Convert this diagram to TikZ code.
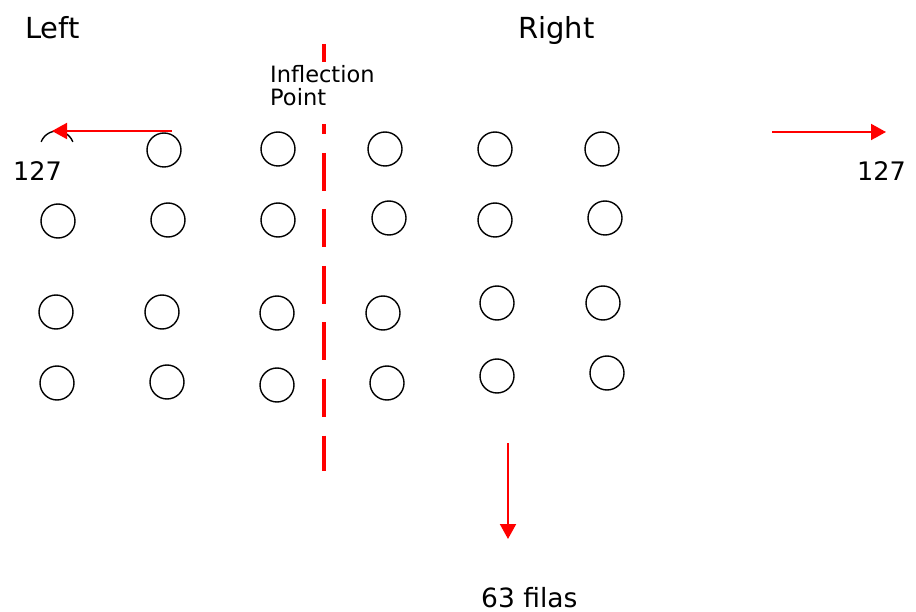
\documentclass[tikz,border=0pt]{standalone}
\usepackage{fontspec}
\setmainfont{DejaVu Sans}
\usetikzlibrary{arrows.meta}
\begin{document}
\begin{tikzpicture}[x=1pt,y=-1pt,
  hole/.style={circle,draw=black,line width=1.4pt,minimum size=34pt,inner sep=0pt},
  lbl/.style={inner sep=0pt,anchor=base west,text=black},
  side/.style={lbl,font=\fontsize{29}{34}\selectfont},
  count/.style={lbl,font=\fontsize{25.5}{30}\selectfont},
  note/.style={lbl,font=\fontsize{22.5}{23}\selectfont,align=left},
  redarrow/.style={draw=red,line width=2pt,-{Triangle[length=15pt,width=16pt]}},
  axis/.style={draw=red,line width=3.5pt,dash pattern=on 38pt off 18.5pt,dash phase=4pt}]
\useasboundingbox (0,0) rectangle (916,612);

% grid of holes, rows top to bottom
\node[hole] (a2) at (164,150) {};
\node[hole] (a3) at (278,149) {};
\node[hole] (a4) at (385,149) {};
\node[hole] (a5) at (495,149) {};
\node[hole] (a6) at (602,149) {};

\node[hole] (b1) at (58,221) {};
\node[hole] (b2) at (168,220) {};
\node[hole] (b3) at (278,220) {};
\node[hole] (b4) at (389,218) {};
\node[hole] (b5) at (495,220) {};
\node[hole] (b6) at (605,218) {};

\node[hole] (c1) at (56,312) {};
\node[hole] (c2) at (162,312) {};
\node[hole] (c3) at (277,313) {};
\node[hole] (c4) at (383,313) {};
\node[hole] (c5) at (497,303) {};
\node[hole] (c6) at (603,303) {};

\node[hole] (d1) at (57,383) {};
\node[hole] (d2) at (167,382) {};
\node[hole] (d3) at (277,385) {};
\node[hole] (d4) at (387,383) {};
\node[hole] (d5) at (497,376) {};
\node[hole] (d6) at (607,373) {};

% first hole of the top row, only its upper rim shows
\draw[black,line width=1.4pt] (57,148) ++(201:17) arc[start angle=201,end angle=339,radius=17];

% inflection axis
\coordinate (axtop) at (324,44);
\coordinate (axbot) at (324,471);
\draw[axis] (axtop) -- (axbot);
\fill[white] (314,62) rectangle (334,124);
\node[note] (infl) at (270,106) {Inflection\\Point};

% side labels
\node[side] (left) at (25,39) {Left};
\node[side] (right) at (518,39) {Right};

% direction arrows
\coordinate (lfrom) at (172,131);
\coordinate (lto) at (52,131);
\draw[redarrow] (lfrom) -- (lto);
\coordinate (rfrom) at (772,132);
\coordinate (rto) at (886,132);
\draw[redarrow] (rfrom) -- (rto);
\coordinate (dfrom) at (508,443);
\coordinate (dto) at (508,539);
\draw[redarrow] (dfrom) -- (dto);

% counts
\node[count] (nl) at (13,181) {127};
\node[count] (nr) at (857,181) {127};
\node[count,font=\fontsize{26.5}{30}\selectfont] (nd) at (481,607) {63 filas};
\end{tikzpicture}
\end{document}
